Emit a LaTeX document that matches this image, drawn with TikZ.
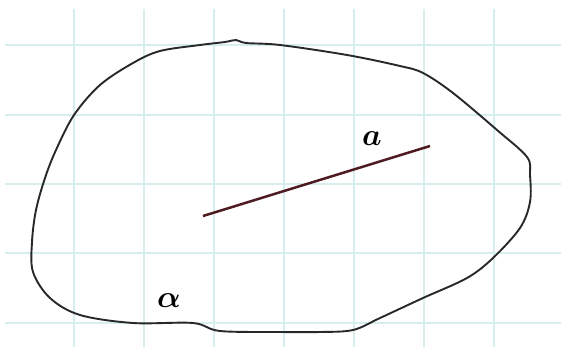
\documentclass[tikz,border=0pt]{standalone}
\usepackage{amsmath,amssymb,bm}
\usepackage{graphicx}
\usepackage{xcolor}
\usepackage{tikz}
\usetikzlibrary{positioning,calc}
\definecolor{gridcyan}{RGB}{214, 238, 238}
\definecolor{outlinegray}{RGB}{40, 40, 40}
\definecolor{segmentbrown}{RGB}{78, 28, 32}
\newcommand{\biglabel}[1]{\scalebox{3.1}{$\bm{#1}$}}

\begin{document}
\begin{tikzpicture}[x=1pt, y=-1pt,
    gridline/.style={gridcyan, line width=1.3pt},
    planeline/.style={outlinegray, line width=1.9pt, line join=round},
    segline/.style={segmentbrown, line width=2.5pt},
    lbl/.style={inner sep=0pt}]
    \useasboundingbox[fill=white] (0, 0) rectangle (561, 347);
    % grid
    \foreach \gx in {74, 144, 214, 284, 354, 424, 494}
        \draw[gridline] (\gx, 9) -- (\gx, 347);
    \foreach \gy in {45, 115, 184, 253, 323}
        \draw[gridline] (5, \gy) -- (561, \gy);
    % plane outline
    \draw[planeline] plot[smooth cycle, tension=0.55] coordinates {
        (45,178) (56,150) (74,115) (100,85) (133,63) (160,51) (200,45) (225,42)
        (236,40) (246,43) (280,45) (347,55) (400,66) (423,73) (453,93) (497,130)
        (527,157) (530,175) (530,202) (520,228) (493,258) (467,278) (423,298)
        (380,318) (353,330) (320,332) (280,332) (220,331) (193,323) (133,323)
        (80,315) (50,298) (33,272) (32,242) (36,210)};
    % line a
    \coordinate (segstart) at (203, 216);
    \coordinate (segend) at (430, 146);
    \draw[segline] (segstart) -- (segend);
    \node[lbl] (lbla) at (372, 139) {\biglabel{a}};
    \node[lbl] (lblalpha) at (169, 301) {\biglabel{\alpha}};
\end{tikzpicture}
\end{document}
